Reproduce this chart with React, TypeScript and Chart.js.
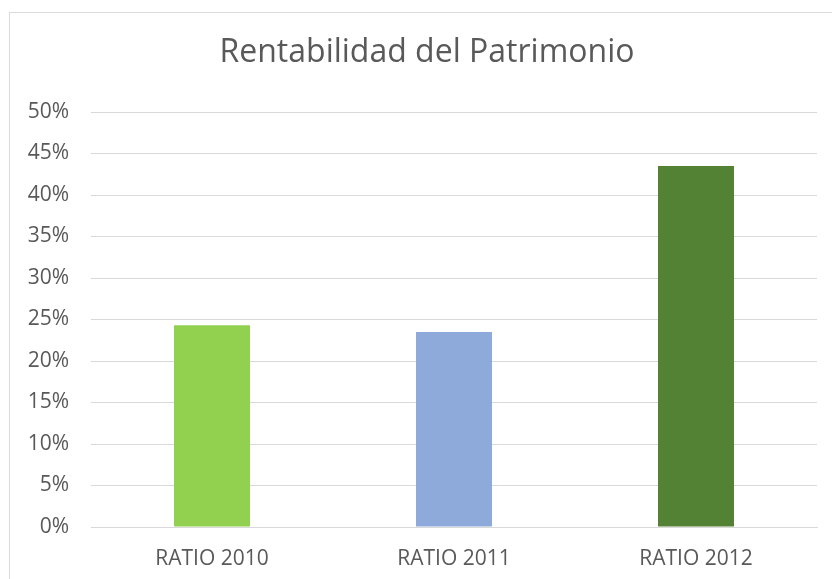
import React, { useEffect, useRef } from "react";
import { Chart, registerables } from "chart.js";

Chart.register(...registerables);

const titleText = "Rentabilidad del Patrimonio";
const categories = ["RATIO 2010", "RATIO 2011", "RATIO 2012"];
const values = [24.3, 23.5, 43.5];
const barColors = ["#92D050", "#8EAADB", "#548235"];
const yTicks = [0, 5, 10, 15, 20, 25, 30, 35, 40, 45, 50];

const centeredTitle = {
  id: "centeredTitle",
  afterDraw(chart: any) {
    const ctx = chart.ctx;
    ctx.save();
    ctx.font = "normal 32px 'Open Sans', sans-serif";
    ctx.fillStyle = "#595959";
    ctx.textAlign = "center";
    ctx.textBaseline = "middle";
    ctx.fillText(titleText, 427, 53);
    ctx.restore();
  },
};

export default function App() {
  const ref = useRef<HTMLCanvasElement | null>(null);

  useEffect(() => {
    if (!ref.current) return;
    const chart = new Chart(ref.current, {
      type: "bar",
      data: {
        labels: categories,
        datasets: [
          {
            data: values,
            backgroundColor: barColors,
            borderWidth: 0,
            barPercentage: 0.314,
            categoryPercentage: 1,
          },
        ],
      },
      plugins: [centeredTitle],
      options: {
        animation: false,
        responsive: false,
        layout: { padding: { left: 0, right: 15, top: 112, bottom: 0 } },
        plugins: {
          legend: { display: false },
          tooltip: { enabled: false },
          title: { display: false },
        },
        scales: {
          x: {
            grid: { display: false },
            border: { display: true, color: "#D9D9D9", width: 1 },
            ticks: {
              color: "#595959",
              font: { family: "'Open Sans', sans-serif", size: 21 },
              padding: 11,
            },
            afterFit: (axis: any) => {
              axis.height = 52;
            },
          },
          y: {
            min: 0,
            max: 50,
            afterBuildTicks: (axis: any) => {
              axis.ticks = yTicks.map((v) => ({ value: v }));
            },
            grid: { color: "#D9D9D9", lineWidth: 1, drawTicks: false },
            border: { display: false },
            ticks: {
              color: "#595959",
              font: { family: "'Open Sans', sans-serif", size: 21 },
              padding: 22,
              callback: (v: any) => v + "%",
            },
            afterFit: (axis: any) => {
              axis.width = 91;
            },
          },
        },
      },
    });
    return () => chart.destroy();
  }, []);

  return (
    <div style={{ position: "fixed", left: 0, top: 0, width: 832, height: 579, background: "#fff", overflow: "hidden" }}>
      <canvas ref={ref} width={832} height={579} style={{ position: "absolute", left: 0, top: 0 }} />
      <div
        style={{
          position: "absolute",
          left: 9,
          top: 12,
          width: 840,
          height: 600,
          border: "1px solid #D9D9D9",
          pointerEvents: "none",
        }}
      />
    </div>
  );
}
